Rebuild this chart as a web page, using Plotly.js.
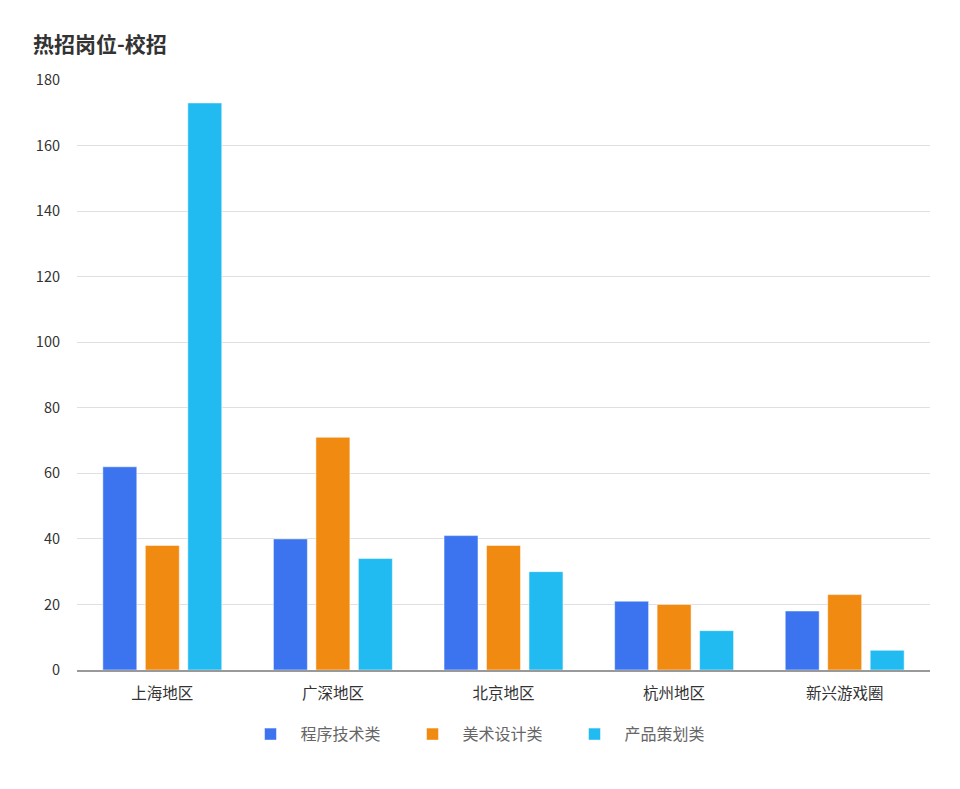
<!DOCTYPE html>
<html><head><meta charset="utf-8">
<script src="https://cdn.plot.ly/plotly-3.0.1.min.js"></script>
<style>html,body{margin:0;padding:0;background:#fff}#chart{width:960px;height:789px}</style>
</head><body><div id="chart"></div>
<script>
const categories = ['上海地区','广深地区','北京地区','杭州地区','新兴游戏圈'];
const seriesNames = ['程序技术类','美术设计类','产品策划类'];
const programValues = [62, 40, 41, 21, 18];
const artValues = [38, 71, 38, 20, 23];
const productValues = [173, 34, 30, 12, 6];
const colors = ['#3C74F0', '#F08A10', '#21BBF2'];
const yTicks = [0, 20, 40, 60, 80, 100, 120, 140, 160, 180];

const font = "'Noto Sans CJK SC', 'Noto Sans', sans-serif";
const values = [programValues, artValues, productValues];
const traces = values.map((v, i) => ({
  type: 'bar', name: seriesNames[i], x: categories, y: v,
  marker: {color: colors[i], line: {color: 'rgba(255,255,255,0.5)', width: 1}},
  hoverinfo: 'x+y+name'
}));

Plotly.newPlot('chart', traces, {
  width: 960, height: 789,
  paper_bgcolor: '#fff', plot_bgcolor: '#fff',
  font: {family: font, size: 14, color: '#333'},
  title: {text: '<b>热招岗位-校招</b>', x: 0, xref: 'paper', xanchor: 'left', y: 1 - 45/789, yref: 'container', yanchor: 'middle',
    font: {family: font, size: 21, color: '#333'}, pad: {l: -44}},
  margin: {l: 77, r: 30, t: 80, b: 119},
  barmode: 'group', bargap: 0.253, bargroupgap: 0.2,
  xaxis: {type: 'category', showline: true, linecolor: '#999', linewidth: 2, ticks: '', showgrid: false,
    ticklabelstandoff: 8, tickfont: {size: 15.5, color: '#333'}, fixedrange: true},
  yaxis: {range: [0, 180], tickvals: yTicks, showgrid: true, gridcolor: '#e0e0e0', gridwidth: 1,
    zeroline: false, showline: false, ticks: '', ticklabelstandoff: 16, tickfont: {size: 14.5, color: '#333'}, fixedrange: true},
  legend: {orientation: 'h', x: 0.5 - 20/853, xanchor: 'center', y: -0.080, yanchor: 'top',
    font: {size: 16, color: '#666'}, itemwidth: 50, entrywidth: 97, entrywidthmode: 'pixels', traceorder: 'normal'},
  showlegend: true
}, {displayModeBar: false});
</script></body></html>
